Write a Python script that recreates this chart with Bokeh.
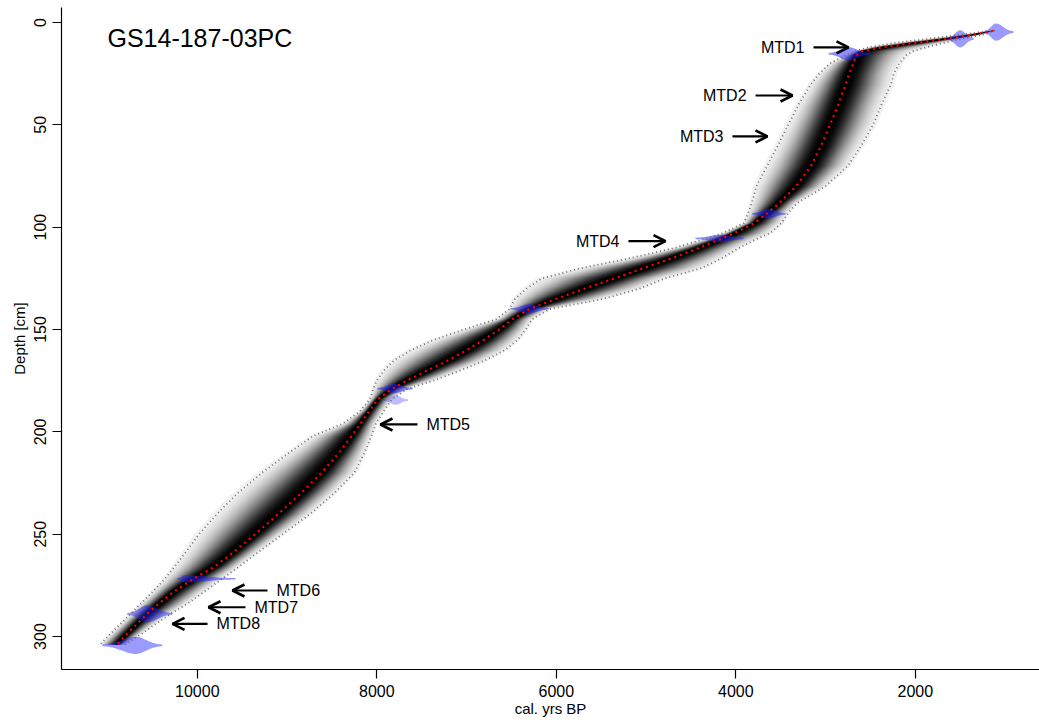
import numpy as np
from bokeh.plotting import figure
from bokeh.models import Range1d, FixedTicker, Arrow, OpenHead, Label
from bokeh.core.properties import value
from bokeh.embed import file_html
from bokeh.resources import INLINE

# ---------------- data ----------------
core_name = "GS14-187-03PC"

depth = [4, 6, 8, 10, 12, 14, 16, 20, 25, 30, 40, 50, 60, 70, 80, 88, 93, 98, 103, 106,
         110, 115, 120, 125, 130, 135, 140, 145, 150, 155, 160, 165, 170, 175, 179, 184,
         190, 196, 202, 210, 220, 230, 240, 250, 260, 266, 272, 278, 284, 289, 294, 299, 304]
mean_age = [1130, 1350, 1640, 2010, 2350, 2590, 2660, 2690, 2735, 2773, 2858, 2950, 3047,
            3160, 3327, 3508, 3645, 3790, 4020, 4180, 4400, 4700, 5025, 5350, 5680, 6000,
            6300, 6490, 6636, 6806, 6995, 7200, 7438, 7665, 7830, 7985, 8087, 8182, 8279,
            8418, 8617, 8845, 9094, 9355, 9631, 9813, 10050, 10260, 10431, 10560, 10676,
            10790, 10895]
old_age = [1160, 1500, 1855, 2235, 2510, 2675, 2780, 2950, 3070, 3160, 3300, 3415, 3530,
           3650, 3770, 3820, 3860, 3910, 4150, 4370, 4670, 5160, 5720, 6160, 6330, 6460,
           6520, 6670, 7030, 7360, 7615, 7805, 7920, 8000, 8040, 8075, 8190, 8380, 8710,
           8970, 9280, 9550, 9778, 9980, 10150, 10255, 10365, 10495, 10630, 10745, 10860,
           10975, 11085]
young_age = [1110, 1250, 1480, 1680, 1860, 2030, 2100, 2180, 2240, 2270, 2375, 2470, 2600,
             2750, 3000, 3310, 3415, 3490, 3620, 3780, 3960, 4150, 4380, 4790, 5070, 5470,
             6070, 6270, 6340, 6430, 6570, 6790, 7070, 7370, 7660, 7830, 7925, 8010, 8060,
             8135, 8250, 8475, 8739, 9050, 9360, 9540, 9730, 9920, 10113, 10300, 10470,
             10630, 10805]

# calibrated dates
date_depth = [4.7, 8.0, 15.3, 93.5, 105.5, 139.9, 178.9, 184.5, 271.8, 288.9, 304.3]
date_peak = [1100, 1500, 2745, 3636, 4170, 6306, 7811, 7790, 10130, 10558, 10688]
date_young = [905, 1348, 2499, 3446, 3913, 6086, 7600, 7650, 9575, 10281, 10391]
date_old = [1240, 1645, 2967, 3817, 4450, 6510, 7993, 7930, 10224, 10782, 11060]

# MTD annotations
mtd_labels = ["MTD1", "MTD2", "MTD3", "MTD4", "MTD5", "MTD6", "MTD7", "MTD8"]
mtd_depth = [12.2, 35.7, 55.7, 106.8, 196.4, 277.5, 285.7, 293.8]
mtd_head_age = [2744, 3368, 3647, 4783, 7959, 9608, 9875, 10276]
mtd_tail_age = [3134, 3780, 4037, 5196, 7547, 9218, 9463, 9886]

x_ticks = [2000, 4000, 6000, 8000, 10000]
y_ticks = [0, 50, 100, 150, 200, 250, 300]

# ---------------- style ----------------
FONT = "Liberation Sans"
violin_half_height = [3.9, 3.9, 2.9, 2.0, 1.5, 2.0, 2.0, 2.0, 1.5, 3.9, 3.9]
violin_alpha = [0.45, 0.45, 0.5, 0.5, 0.5, 0.5, 0.5, 0.3, 0.5, 0.45, 0.45]

p = figure(width=1039, height=722, output_backend="svg", toolbar_location=None,
           x_range=Range1d(11513, 616), y_range=Range1d(316.1, -7.3),
           min_border_left=61, min_border_right=0, min_border_top=7, min_border_bottom=53)
p.outline_line_color = None
p.grid.visible = False
p.background_fill_color = "white"

# grey-scale cloud built from nested bands between mean and the 95% bounds
d = np.array(depth, float)
m = np.array(mean_age, float)
o = np.array(old_age, float)
yg = np.array(young_age, float)
layer_alpha = 0.05
n_layers = 68
fracs = [0.63 * np.sqrt(-np.log((1 - (1 - layer_alpha) ** j) / 0.975)) for j in range(1, n_layers + 1)]
for f in fracs:
    p.harea(x1=m + f * (o - m), x2=m - f * (m - yg), y=d,
            fill_color="black", fill_alpha=layer_alpha)

# calibrated date distributions
xs, ys = [], []
for dd, pk, yo, ol, hh in zip(date_depth, date_peak, date_young, date_old, violin_half_height):
    a = np.linspace(yo, ol, 80)
    s = np.where(a < pk, (pk - yo) / 2.6, (ol - pk) / 2.6)
    h = hh * np.exp(-0.5 * ((a - pk) / s) ** 2) + 0.3
    xs.append(list(a) + list(a[::-1]))
    ys.append(list(dd - h) + list((dd + h)[::-1]))
p.patches(xs=xs, ys=ys, fill_color="#2020ff", fill_alpha=violin_alpha, line_color=None)

# 95% range and mean
p.line(old_age, depth, line_color="#6e6e6e", line_width=1.8, line_dash="1 3")
p.line(young_age, depth, line_color="#6e6e6e", line_width=1.8, line_dash="1 3")
p.line(mean_age, depth, line_color="red", line_width=2.2, line_dash="2 4")

# MTD arrows and labels
for lab, dd, ha, ta in zip(mtd_labels, mtd_depth, mtd_head_age, mtd_tail_age):
    p.add_layout(Arrow(end=OpenHead(size=12, line_width=2.6, line_color="black"),
                       x_start=ta, y_start=dd, x_end=ha, y_end=dd,
                       line_width=2.2, line_color="black"))
    right_pointing = ha < ta
    p.add_layout(Label(x=ta, y=dd, text=lab, text_font=FONT, text_font_size="16px",
                       text_baseline="middle",
                       text_align="right" if right_pointing else "left",
                       x_offset=-9 if right_pointing else 9, text_color="black"))

p.add_layout(Label(x=11001, y=7.8, text=core_name, text_font=FONT, text_font_size="25px",
                   text_baseline="middle", text_align="left", text_color="black"))

# axes
for ax in (p.xaxis[0], p.yaxis[0]):
    ax.axis_line_color = "black"
    ax.axis_line_width = 1.2
    ax.major_tick_line_color = "black"
    ax.major_tick_line_width = 1.2
    ax.major_tick_out = 9
    ax.major_tick_in = 0
    ax.minor_tick_line_color = None
    ax.major_label_text_font = FONT
    ax.major_label_text_font_size = "16px"
    ax.major_label_text_color = "black"
    ax.axis_label_text_font = FONT
    ax.axis_label_text_font_size = "15px"
    ax.axis_label_text_font_style = "normal"
    ax.axis_label_text_color = "black"

p.xaxis.ticker = FixedTicker(ticks=x_ticks)
p.yaxis.ticker = FixedTicker(ticks=y_ticks)
p.xaxis.axis_label = "cal. yrs BP"
p.yaxis.axis_label = "Depth [cm]"
p.xaxis.major_label_standoff = 6
p.xaxis.axis_label_standoff = 0
p.yaxis.major_label_orientation = "vertical"
p.yaxis.major_label_standoff = 6
p.yaxis.axis_label_standoff = 4

open("out.html", "w").write(file_html(p, INLINE))
